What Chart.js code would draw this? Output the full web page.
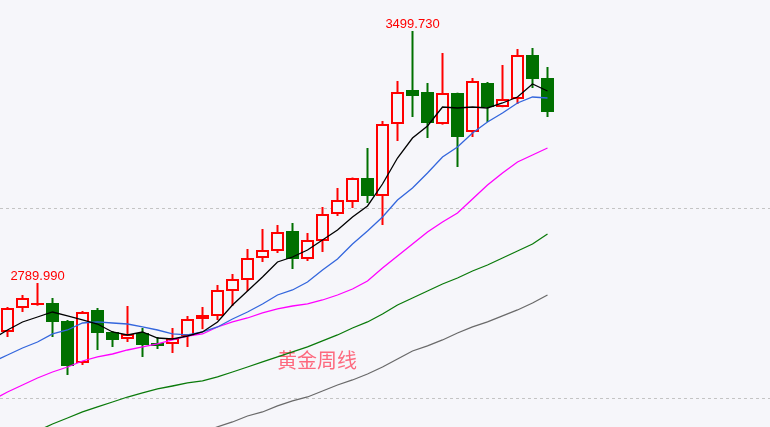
<!DOCTYPE html>
<html>
<head>
<meta charset="utf-8">
<style>
    html, body { margin: 0; padding: 0; background: #f6f6fa; }
    #wrap { width: 770px; height: 427px; }
</style>
</head>
<body>
<div id="wrap"><canvas id="chart"></canvas></div>

<script src="https://cdn.jsdelivr.net/npm/chart.js"></script>
<script type="text/javascript">
    // weekly candles, oldest first
    const opens = [2652.0, 2719.6, 2728.0, 2733.6, 2682.9, 2564.7, 2713.9, 2652.0, 2632.3, 2649.2,
        2621.0, 2618.2, 2640.7, 2688.6, 2697.0, 2767.5, 2798.5, 2860.4, 2880.1, 2936.4,
        2857.6, 2908.3, 2984.3, 3018.1, 3085.7, 3035.0, 3237.8, 3333.6, 3327.9, 3237.8,
        3325.1, 3215.3, 3353.3, 3285.7, 3308.2, 3432.1, 3367.4];
    const highs = [2722.4, 2756.2, 2789.99, 2747.7, 2685.8, 2711.1, 2719.6, 2654.8, 2725.2, 2663.2,
        2637.9, 2663.2, 2697.0, 2722.4, 2784.4, 2815.4, 2885.7, 2942.1, 2953.3, 2959.0,
        2930.8, 3004.0, 3057.6, 3087.0, 3170.2, 3246.3, 3358.9, 3499.73, 3353.3, 3437.8,
        3326.0, 3367.4, 3356.1, 3404.0, 3449.0, 3451.9, 3398.3];
    const lows = [2637.9, 2708.3, 2726.0, 2637.9, 2530.9, 2559.1, 2601.3, 2609.7, 2623.8, 2581.6,
        2604.1, 2592.8, 2609.7, 2660.0, 2685.8, 2725.2, 2767.5, 2849.1, 2874.5, 2829.4,
        2852.0, 2877.3, 2978.7, 3001.2, 3015.3, 2953.3, 3189.9, 3257.5, 3198.4, 3236.0,
        3116.7, 3201.2, 3243.4, 3285.0, 3294.1, 3339.2, 3257.5];
    const closes = [2719.6, 2747.7, 2733.6, 2680.1, 2556.2, 2708.3, 2649.2, 2629.5, 2646.3, 2615.4,
        2612.5, 2635.1, 2688.6, 2699.9, 2770.3, 2801.3, 2860.4, 2882.9, 2933.6, 2857.6,
        2911.1, 2984.3, 3023.8, 3085.7, 3035.0, 3237.8, 3327.9, 3316.6, 3240.6, 3325.1,
        3201.2, 3358.9, 3285.7, 3308.2, 3432.1, 3364.5, 3271.6];

    // moving averages; the first value is the week before the first candle
    const ma5 = [2632.3, 2657.6, 2680.2, 2694.2, 2708.3, 2697.1, 2685.8, 2674.5, 2652.0, 2643.6,
        2652.0, 2635.1, 2632.3, 2640.7, 2652.0, 2680.2, 2728.0, 2767.5, 2806.9, 2849.1,
        2863.2, 2882.9, 2911.1, 2939.3, 2975.9, 3006.9, 3068.8, 3142.0, 3198.4, 3232.2,
        3285.7, 3282.9, 3285.7, 3282.9, 3297.0, 3313.9, 3350.5, 3330.8];
    const ma10 = [2567.5, 2587.2, 2606.9, 2623.8, 2646.4, 2657.6, 2677.3, 2680.2, 2677.3, 2674.5,
        2666.1, 2657.6, 2646.4, 2643.6, 2652.0, 2666.1, 2688.6, 2708.3, 2730.9, 2756.2,
        2770.3, 2792.8, 2826.6, 2857.6, 2899.8, 2936.5, 2975.9, 3023.8, 3057.6, 3099.8,
        3144.9, 3173.0, 3212.5, 3243.4, 3268.8, 3297.0, 3313.9, 3311.0];
    const ma20 = [2460.5, 2483.0, 2502.7, 2522.4, 2539.3, 2553.4, 2570.3, 2581.6, 2590.0, 2601.3,
        2609.8, 2618.2, 2629.5, 2640.7, 2646.4, 2666.1, 2680.2, 2691.4, 2705.5, 2716.8,
        2725.2, 2730.9, 2742.1, 2756.2, 2773.1, 2795.6, 2832.2, 2866.0, 2899.8, 2933.6,
        2961.8, 2987.2, 3026.6, 3066.0, 3099.8, 3130.8, 3150.5, 3170.2];
    const ma60 = [null, null, null, 2373.2, 2392.9, 2409.8, 2426.7, 2440.8, 2454.8, 2468.9,
        2480.2, 2491.5, 2499.9, 2508.4, 2514.0, 2525.3, 2539.3, 2553.4, 2567.5, 2581.6,
        2595.7, 2609.8, 2626.7, 2643.6, 2663.3, 2680.2, 2702.7, 2728.0, 2747.8, 2767.5,
        2787.2, 2804.1, 2823.8, 2840.7, 2860.4, 2880.1, 2899.8, 2928.0];
    const ma120 = [null, null, null, null, null, null, null, null, null, null,
        null, null, null, null, 2367.5, 2385.0, 2398.5, 2415.4, 2426.7, 2443.6,
        2457.7, 2468.9, 2485.8, 2502.7, 2516.8, 2533.7, 2553.4, 2576.0, 2598.5, 2612.6,
        2629.5, 2649.2, 2666.1, 2680.2, 2697.1, 2714.0, 2733.7, 2756.2];

    const gridValues = [2466, 3000];
    const markIdx = [2, 27];
    const title = '黄金周线';

    const UP = '#ff0000';
    const DOWN = '#007000';
    const BG = '#f6f6fa';

    const isUp = closes.map((c, i) => c >= opens[i]);
    const bodies = opens.map((o, i) => ({x: i, y: [Math.min(o, closes[i]), Math.max(o, closes[i])]}));
    const wicks = lows.map((l, i) => ({x: i, y: [l, highs[i]]}));
    const maPoints = (arr) => arr.map((v, i) => ({x: i - 1, y: v}));

    function maLine(label, arr, color) {
        return {
            type: 'line',
            label: label,
            data: maPoints(arr),
            borderColor: color,
            borderWidth: 1.3,
            pointRadius: 0,
            tension: 0,
            order: 0
        };
    }

    const marksPlugin = {
        id: 'marks',
        beforeDatasetsDraw(chart) {
            const ctx = chart.ctx;
            ctx.save();
            ctx.font = '20px "Noto Sans CJK SC", sans-serif';
            ctx.fillStyle = 'rgba(255, 70, 95, 0.8)';
            ctx.textAlign = 'center';
            ctx.fillText(title, 317, 368);
            ctx.restore();
        },
        afterDatasetsDraw(chart) {
            const {ctx, scales: {x, y}} = chart;
            ctx.save();
            ctx.font = '13px "Liberation Sans", Arial, sans-serif';
            ctx.fillStyle = UP;
            ctx.textAlign = 'center';
            markIdx.forEach(i => {
                ctx.fillText(highs[i].toFixed(3), x.getPixelForValue(i), y.getPixelForValue(highs[i]) - 3);
            });
            ctx.restore();
        }
    };

    new Chart(document.getElementById('chart'), {
        type: 'bar',
        data: {
            datasets: [
                maLine('MA5', ma5, '#000000'),
                maLine('MA10', ma10, '#3366dd'),
                maLine('MA20', ma20, '#ff00ff'),
                maLine('MA60', ma60, '#0a7a0a'),
                maLine('MA120', ma120, '#6a6a6a'),
                {
                    label: 'body',
                    data: bodies,
                    grouped: false,
                    barThickness: 13,
                    borderWidth: isUp.map(u => u ? 2 : 1),
                    borderSkipped: false,
                    inflateAmount: 0,
                    borderColor: isUp.map(u => u ? UP : DOWN),
                    backgroundColor: isUp.map(u => u ? BG : DOWN),
                    order: 1
                },
                {
                    label: 'wick',
                    data: wicks,
                    grouped: false,
                    barThickness: 2,
                    borderWidth: 0,
                    inflateAmount: 0,
                    backgroundColor: isUp.map(u => u ? UP : DOWN),
                    order: 2
                }
            ]
        },
        options: {
            responsive: true,
            maintainAspectRatio: false,
            animation: false,
            layout: { padding: 0 },
            scales: {
                x: {
                    type: 'linear',
                    display: false,
                    offset: false,
                    grid: { offset: false },
                    min: -0.5,
                    max: 50.8333
                },
                y: {
                    min: 2384.4,
                    max: 3587.04,
                    afterBuildTicks: (scale) => {
                        scale.ticks = gridValues.map(v => ({value: v}));
                    },
                    afterFit: (scale) => { scale.width = 0; },
                    ticks: { display: false },
                    grid: { color: '#c4c4c4', drawTicks: false },
                    border: { display: false, dash: [3, 3] }
                }
            },
            plugins: {
                legend: { display: false },
                tooltip: { enabled: false }
            }
        },
        plugins: [marksPlugin]
    });
</script>
</body>
</html>
